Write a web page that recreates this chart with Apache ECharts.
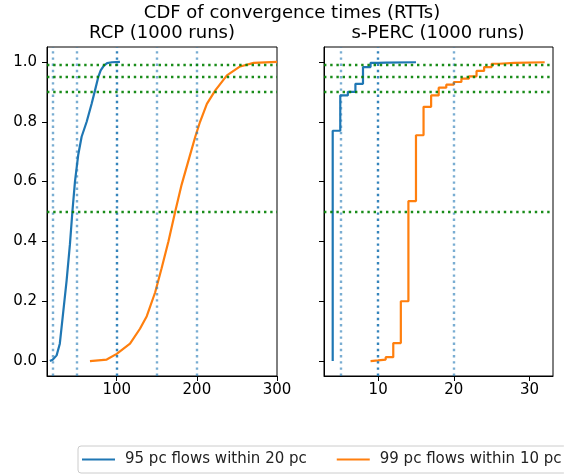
<!DOCTYPE html>
<html>
<head>
<meta charset="utf-8">
<title>CDF of convergence times (RTTs)</title>
<script src="https://cdn.jsdelivr.net/npm/echarts/dist/echarts.min.js"></script>
<style>
  html, body { margin: 0; padding: 0; background: #fff; }
  #chart { width: 564px; height: 474px; }
</style>
</head>
<body>
<div id="chart"></div>
<script>
  // RCP curves, [RTTs, fraction of runs]
  var rcpFlows95 = [
    [16.6, 0], [20, 0.004], [25, 0.019], [29, 0.058], [33, 0.158], [37.5, 0.27],
    [41.6, 0.39], [44.7, 0.5], [47.9, 0.6], [52, 0.69], [56.2, 0.75], [62.5, 0.8],
    [68.7, 0.86], [72.9, 0.905], [77, 0.95], [80, 0.972], [84, 0.988], [88, 0.996],
    [94, 0.999], [104, 1.0]
  ];
  var rcpFlows99 = [
    [66.6, 0], [87.5, 0.005], [100, 0.024], [116.6, 0.058], [129, 0.108], [137.5, 0.15],
    [148, 0.23], [156, 0.31], [164.5, 0.4], [173, 0.5], [181, 0.59], [189.5, 0.67],
    [198, 0.75], [204, 0.8], [212.5, 0.86], [223, 0.905], [237.5, 0.955], [254, 0.985],
    [271, 0.997], [300, 1.0]
  ];
  // s-PERC curves, integer RTTs -> cumulative fraction (drawn as steps)
  var spercFlows95 = [
    [4, 0], [4, 0.77], [5, 0.888], [6, 0.9], [7, 0.927], [8, 0.983], [9, 0.997],
    [10, 0.998], [11, 0.999], [15, 1.0]
  ];
  var spercFlows99 = [
    [9, 0], [9, 0.002], [10, 0.005], [11, 0.013], [12, 0.06], [13, 0.2], [14, 0.535],
    [15, 0.755], [16, 0.85], [17, 0.888], [18, 0.914], [19, 0.924], [20, 0.933],
    [21, 0.944], [22, 0.952], [23, 0.97], [24, 0.983], [25, 0.994], [26, 0.997],
    [28, 0.999], [32, 1.0]
  ];

  var rcpXTicks = [100, 200, 300];
  var spercXTicks = [10, 20, 30];
  var yTicks = [0, 0.2, 0.4, 0.6, 0.8, 1.0];

  var rcpMarks = [20, 50, 100, 150, 200];
  var spercMarks = [5, 10, 20];
  var levelMarks = [0.5, 0.9, 0.95, 0.99];

  var seriesNames = ['95 pc flows within 20 pc', '99 pc flows within 10 pc'];
  var plotTitles = ['RCP (1000 runs)', 's-PERC (1000 runs)'];

  var FONT = 'DejaVu Sans';
  var BLUE = '#1f77b4', ORANGE = '#ff7f0e', GREEN = '#008000';
  var DOTS = [2.4, 3.8];

  function makeX(idx, min, max, ticks) {
    return {
      type: 'value', gridIndex: idx, min: min, max: max,
      axisLine: { show: true, onZero: false, lineStyle: { color: '#000', width: 1 } },
      axisTick: { show: true, inside: false, length: 5, customValues: ticks, lineStyle: { color: '#000', width: 1 } },
      axisLabel: { show: true, margin: 7, customValues: ticks, color: '#000', fontFamily: FONT, fontSize: 15 },
      splitLine: { show: false }
    };
  }
  function makeY(idx, showLabels) {
    return {
      type: 'value', gridIndex: idx, min: -0.05, max: 1.05,
      axisLine: { show: true, onZero: false, lineStyle: { color: '#000', width: 1 } },
      axisTick: { show: true, inside: false, length: 5, customValues: yTicks, lineStyle: { color: '#000', width: 1 } },
      axisLabel: {
        show: showLabels, margin: 10, customValues: yTicks, color: '#000', fontFamily: FONT, fontSize: 15,
        formatter: function (v) { return v.toFixed(1); }
      },
      splitLine: { show: false }
    };
  }

  function refLines(idx, xs) {
    var data = xs.map(function (v) {
      var strong = v === 100 || v === 10;
      return { xAxis: v, lineStyle: { color: BLUE, type: DOTS, width: 2.4, opacity: strong ? 0.9 : 0.6 } };
    });
    levelMarks.forEach(function (v) {
      data.push({ yAxis: v, lineStyle: { color: GREEN, type: DOTS, width: 2.4, opacity: 0.9 } });
    });
    return {
      type: 'line', xAxisIndex: idx, yAxisIndex: idx, data: [], silent: true, z: 1,
      markLine: {
        silent: true, symbol: 'none', animation: false,
        label: { show: false },
        lineStyle: { color: BLUE, type: DOTS, width: 2.4 },
        data: data
      }
    };
  }

  function curve(idx, name, color, data, step) {
    return {
      type: 'line', name: name, xAxisIndex: idx, yAxisIndex: idx, data: data,
      step: step ? 'end' : false, symbol: 'none', showSymbol: false, z: 3,
      color: color,
      lineStyle: { color: color, width: 2.2 }
    };
  }

  var titleStyle = { fontFamily: FONT, fontSize: 18, fontWeight: 'normal', color: '#000' };

  var option = {
    animation: false,
    backgroundColor: '#fff',
    title: [
      { text: 'CDF of convergence times (RTTs)', left: 292, top: 4, textAlign: 'center', padding: 0, textStyle: titleStyle },
      { text: plotTitles[0], left: 162, top: 24, textAlign: 'center', padding: 0, textStyle: titleStyle },
      { text: plotTitles[1], left: 438, top: 24, textAlign: 'center', padding: 0, textStyle: titleStyle }
    ],
    grid: [
      { left: 47, top: 47, width: 230, height: 329, show: true, borderColor: '#000', borderWidth: 1 },
      { left: 324, top: 47, width: 229, height: 329, show: true, borderColor: '#000', borderWidth: 1 }
    ],
    xAxis: [makeX(0, 13, 300, rcpXTicks), makeX(1, 2.85, 33.1, spercXTicks)],
    yAxis: [makeY(0, true), makeY(1, false)],
    legend: {
      data: seriesNames, left: 78, top: 446, width: 800, icon: 'rect',
      padding: [6, 5, 6, 4], itemGap: 30, itemWidth: 33, itemHeight: 2.2,
      borderColor: '#ccc', borderWidth: 1, borderRadius: 3, backgroundColor: '#fff',
      textStyle: { fontFamily: FONT, fontSize: 15, color: '#222', padding: [0, 0, 0, 5], lineHeight: 15 }
    },
    series: [
      refLines(0, rcpMarks),
      refLines(1, spercMarks),
      curve(0, seriesNames[0], BLUE, rcpFlows95, false),
      curve(0, seriesNames[1], ORANGE, rcpFlows99, false),
      curve(1, seriesNames[0], BLUE, spercFlows95, true),
      curve(1, seriesNames[1], ORANGE, spercFlows99, true)
    ]
  };

  var myChart = echarts.init(document.getElementById('chart'));
  myChart.setOption(option);
</script>
</body>
</html>
